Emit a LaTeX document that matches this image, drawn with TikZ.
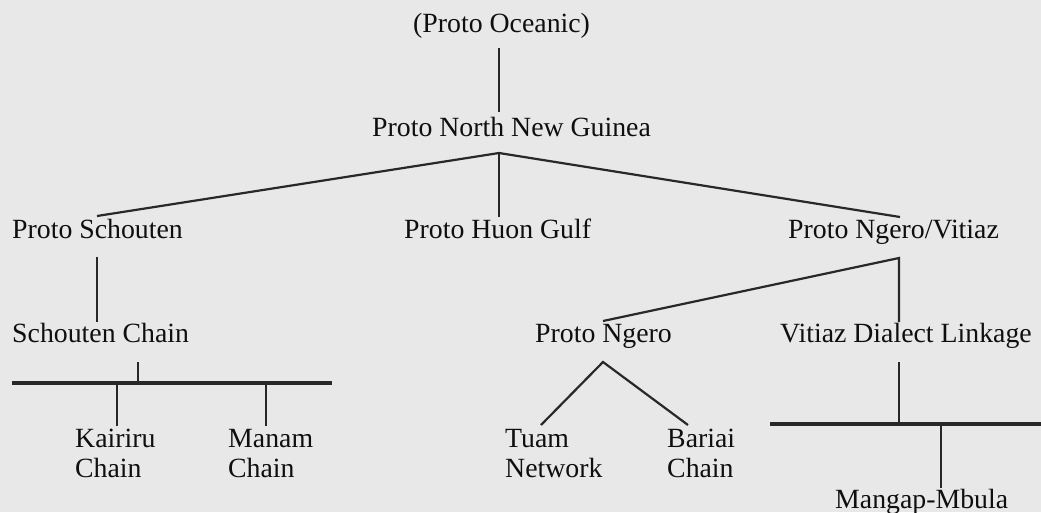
\documentclass[tikz,border=0pt]{standalone}
\usepackage{fontspec}
\setmainfont{Liberation Serif}
\definecolor{paper}{RGB}{232,232,232}
\definecolor{ink}{RGB}{15,15,15}
\definecolor{linecol}{RGB}{40,40,40}
\begin{document}
\begin{tikzpicture}[x=1pt,y=-1pt,
  lbl/.style={anchor=base west, inner sep=0pt, text=ink, font=\fontsize{27.8}{30}\selectfont},
  lbl2/.style={lbl, align=left},
  conn/.style={draw=linecol, line width=2.2pt},
  bar/.style={draw=linecol, line width=3.6pt}]
\useasboundingbox (0,0) rectangle (1041,512);
\fill[paper] (0,0) rectangle (1041,512);

% nodes (two-line nodes are placed at the baseline of their last line)
\node[lbl] (po)   at (413,32)  {(Proto Oceanic)};
\node[lbl] (pnng) at (372,136) {Proto North New Guinea};
\node[lbl] (ps)   at (12,238)  {Proto Schouten};
\node[lbl] (phg)  at (404,238) {Proto Huon Gulf};
\node[lbl] (pnv)  at (788,238) {Proto Ngero/Vitiaz};
\node[lbl] (sc)   at (12,342)  {Schouten Chain};
\node[lbl] (pn)   at (535,342) {Proto Ngero};
\node[lbl] (vdl)  at (780,342) {Vitiaz Dialect Linkage};
\node[lbl2] (kc)  at (75,477)  {Kairiru\\Chain};
\node[lbl2] (mc)  at (228,477) {Manam\\Chain};
\node[lbl2] (tn)  at (505,477) {Tuam\\Network};
\node[lbl2] (bc)  at (667,477) {Bariai\\Chain};
\node[lbl] (mm)   at (835,508) {Mangap-Mbula};

% junction and end coordinates
\coordinate (poB)  at (499,48);
\coordinate (pnngT) at (499,112);
\coordinate (j1)   at (499,153);
\coordinate (psT)  at (97,216);
\coordinate (phgT) at (499,217);
\coordinate (pnvT) at (900,217);
\coordinate (psB)  at (97,257);
\coordinate (scT)  at (97,322);
\coordinate (j2)   at (899,258);
\coordinate (pnT)  at (603,321);
\coordinate (vdlT) at (899,322);
\coordinate (scB)  at (138,362);
\coordinate (b1)   at (138,383);
\coordinate (b1L)  at (12,383);
\coordinate (b1R)  at (332,383);
\coordinate (kcb)  at (117,383);
\coordinate (kcT)  at (117,426);
\coordinate (mcb)  at (266,383);
\coordinate (mcT)  at (266,426);
\coordinate (j3)   at (603,362);
\coordinate (tnT)  at (541,425);
\coordinate (bcT)  at (688,425);
\coordinate (vdlB) at (899,362);
\coordinate (b2)   at (899,424);
\coordinate (b2L)  at (770,424);
\coordinate (b2R)  at (1041,424);
\coordinate (mmb)  at (941,424);
\coordinate (mmT)  at (941,488);

% connectors
\draw[conn] (poB) -- (pnngT);
\draw[conn] (psT) -- (j1) -- (pnvT);
\draw[conn] (j1) -- (phgT);
\draw[conn] (psB) -- (scT);
\draw[conn] (pnT) -- (j2) -- (vdlT);
\draw[conn] (scB) -- (b1);
\draw[bar] (b1L) -- (b1R);
\draw[conn] (kcb) -- (kcT);
\draw[conn] (mcb) -- (mcT);
\draw[conn] (tnT) -- (j3) -- (bcT);
\draw[conn] (vdlB) -- (b2);
\draw[bar, line width=3.2pt] (b2L) -- (b2R);
\draw[conn] (mmb) -- (mmT);
\end{tikzpicture}
\end{document}
